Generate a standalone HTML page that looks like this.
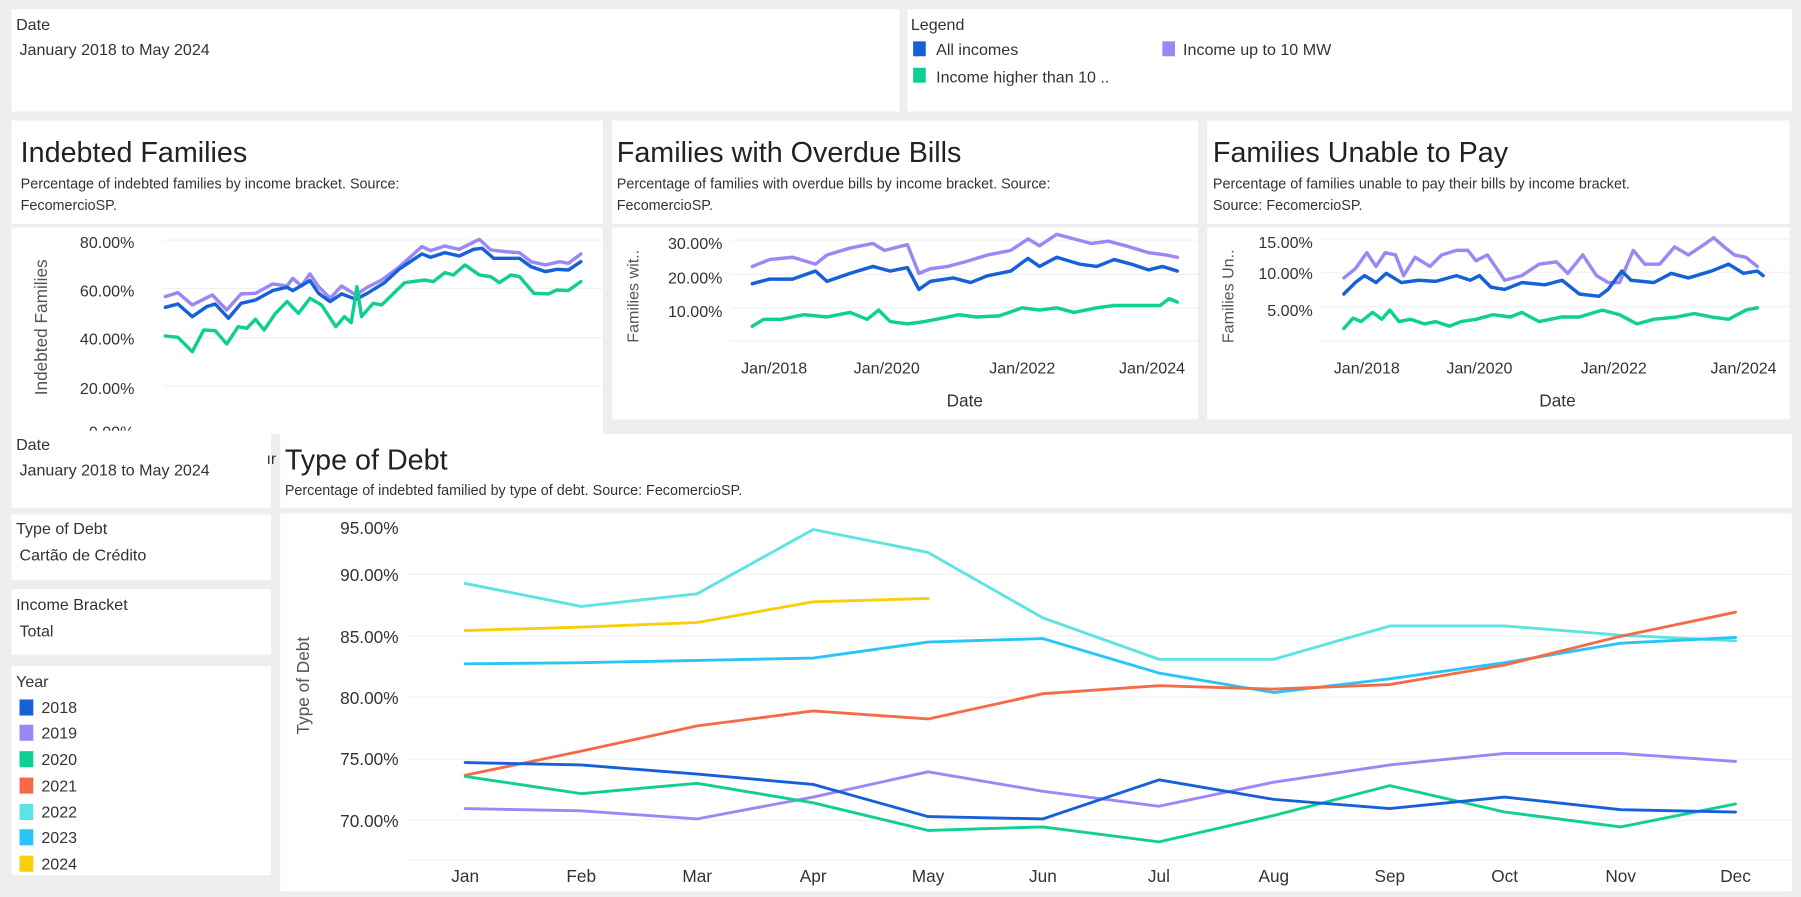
<!DOCTYPE html>
<html><head><meta charset="utf-8"><style>
html,body{margin:0;padding:0;background:#eeeeee;}
svg{display:block;}
text{font-family:"Liberation Sans",sans-serif;fill:#333;}
.t{font-size:14px;fill:#333;}
.h{font-size:25px;fill:#222;}
.s{font-size:12.5px;fill:#333;}
.ax{font-size:14px;fill:#555;}
.g{stroke:#f0f0f0;stroke-width:1;}
</style></head><body>
<svg id="sv" width="1801" height="897" viewBox="0 0 1568 781" preserveAspectRatio="none" xmlns="http://www.w3.org/2000/svg">
<rect x="0" y="0" width="1568" height="781" fill="#eeeeee"/>
<!-- top panels -->
<rect x="10" y="8" width="773" height="89" fill="#fff"/>
<text class="t" x="14" y="26">Date</text>
<text class="t" x="17" y="48">January 2018 to May 2024</text>
<rect x="790" y="8" width="770" height="89" fill="#fff"/>
<text class="t" x="793" y="26">Legend</text>
<rect x="795" y="36" width="11" height="13" fill="#1660d9"/><text class="t" x="815" y="48">All incomes</text>
<rect x="1012" y="36" width="11" height="13" fill="#9b87f5"/><text class="t" x="1030" y="48">Income up to 10 MW</text>
<rect x="795" y="59" width="11" height="13" fill="#0fcf92"/><text class="t" x="815" y="72">Income higher than 10 ..</text>

<!-- Indebted -->
<rect x="10" y="105" width="515" height="90" fill="#fff"/>
<text class="h" x="18" y="141">Indebted Families</text>
<text class="s" x="18" y="164">Percentage of indebted families by income bracket. Source:</text>
<text class="s" x="18" y="183">FecomercioSP.</text>
<rect x="10" y="198" width="515" height="180" fill="#fff"/>
<g class="g"><line x1="142" y1="209" x2="525" y2="209"/><line x1="142" y1="251" x2="525" y2="251"/><line x1="142" y1="294" x2="525" y2="294"/><line x1="142" y1="336" x2="525" y2="336"/></g>
<g class="ax" text-anchor="end"><text x="117" y="216">80.00%</text><text x="117" y="258">60.00%</text><text x="117" y="300">40.00%</text><text x="117" y="343">20.00%</text><text x="117" y="381">0.00%</text></g>
<text class="ax" transform="translate(41,285) rotate(-90)" text-anchor="middle" style="font-size:15px">Indebted Families</text>

<!-- Overdue -->
<rect x="533" y="105" width="510" height="90" fill="#fff"/>
<text class="h" x="537" y="141">Families with Overdue Bills</text>
<text class="s" x="537" y="164">Percentage of families with overdue bills by income bracket. Source:</text>
<text class="s" x="537" y="183">FecomercioSP.</text>
<rect x="533" y="198" width="510" height="167" fill="#fff"/>
<g class="g"><line x1="636" y1="209" x2="1043" y2="209"/><line x1="636" y1="239" x2="1043" y2="239"/><line x1="636" y1="268" x2="1043" y2="268"/><line x1="636" y1="297" x2="1043" y2="297"/></g>
<g class="ax" text-anchor="end"><text x="629" y="217">30.00%</text><text x="629" y="247">20.00%</text><text x="629" y="276">10.00%</text></g>
<g class="ax" text-anchor="middle"><text x="674" y="325">Jan/2018</text><text x="772" y="325">Jan/2020</text><text x="890" y="325">Jan/2022</text><text x="1003" y="325">Jan/2024</text><text x="840" y="354" style="font-size:15px">Date</text></g>
<text class="ax" transform="translate(556,258) rotate(-90)" text-anchor="middle">Families wit..</text>

<!-- Unable -->
<rect x="1051" y="105" width="507" height="90" fill="#fff"/>
<text class="h" x="1056" y="141">Families Unable to Pay</text>
<text class="s" x="1056" y="164">Percentage of families unable to pay their bills by income bracket.</text>
<text class="s" x="1056" y="183">Source: FecomercioSP.</text>
<rect x="1051" y="198" width="507" height="167" fill="#fff"/>
<g class="g"><line x1="1150" y1="208" x2="1558" y2="208"/><line x1="1150" y1="237" x2="1558" y2="237"/><line x1="1150" y1="267" x2="1558" y2="267"/><line x1="1150" y1="297" x2="1558" y2="297"/></g>
<g class="ax" text-anchor="end"><text x="1143" y="216">15.00%</text><text x="1143" y="243">10.00%</text><text x="1143" y="275">5.00%</text></g>
<g class="ax" text-anchor="middle"><text x="1190" y="325">Jan/2018</text><text x="1288" y="325">Jan/2020</text><text x="1405" y="325">Jan/2022</text><text x="1518" y="325">Jan/2024</text><text x="1356" y="354" style="font-size:15px">Date</text></g>
<text class="ax" transform="translate(1074,258) rotate(-90)" text-anchor="middle">Families Un..</text>

<!-- bottom left -->
<rect x="10" y="375" width="226" height="67" fill="#fff"/>
<text class="t" x="14" y="392">Date</text>
<text class="t" x="17" y="414">January 2018 to May 2024</text>
<text class="t" x="232" y="404">ır</text>
<rect x="10" y="448" width="226" height="57" fill="#fff"/>
<text class="t" x="14" y="465">Type of Debt</text>
<text class="t" x="17" y="488">Cartão de Crédito</text>
<rect x="10" y="513" width="226" height="57" fill="#fff"/>
<text class="t" x="14" y="531">Income Bracket</text>
<text class="t" x="17" y="554">Total</text>
<rect x="10" y="580" width="226" height="182" fill="#fff"/>
<text class="t" x="14" y="598">Year</text>
<g class="t">
<rect x="17" y="609" width="12" height="14" fill="#1660d9"/><text x="36" y="621">2018</text>
<rect x="17" y="631" width="12" height="14" fill="#9b87f5"/><text x="36" y="643">2019</text>
<rect x="17" y="654" width="12" height="14" fill="#0fcf92"/><text x="36" y="666">2020</text>
<rect x="17" y="677" width="12" height="14" fill="#f56b47"/><text x="36" y="689">2021</text>
<rect x="17" y="700" width="12" height="14" fill="#5ee3e3"/><text x="36" y="712">2022</text>
<rect x="17" y="722" width="12" height="14" fill="#29c5f6"/><text x="36" y="734">2023</text>
<rect x="17" y="745" width="12" height="14" fill="#f8cf0a"/><text x="36" y="757">2024</text>
</g>

<!-- Type of Debt -->
<rect x="244" y="378" width="1316" height="64" fill="#fff"/>
<text class="h" x="248" y="409">Type of Debt</text>
<text class="s" x="248" y="431">Percentage of indebted familied by type of debt. Source: FecomercioSP.</text>
<rect x="244" y="447" width="1316" height="329" fill="#fff"/>
<g class="g"><line x1="355" y1="500" x2="1560" y2="500"/><line x1="355" y1="554" x2="1560" y2="554"/><line x1="355" y1="607" x2="1560" y2="607"/><line x1="355" y1="661" x2="1560" y2="661"/><line x1="355" y1="714" x2="1560" y2="714"/><line x1="355" y1="749" x2="1560" y2="749"/></g>
<g class="ax" text-anchor="end" style="font-size:15px"><text x="347" y="465">95.00%</text><text x="347" y="506">90.00%</text><text x="347" y="560">85.00%</text><text x="347" y="613">80.00%</text><text x="347" y="666">75.00%</text><text x="347" y="720">70.00%</text></g>
<text class="ax" transform="translate(269,597) rotate(-90)" text-anchor="middle" style="font-size:15px">Type of Debt</text>
<g class="ax" text-anchor="middle" style="font-size:15px" id="months"></g>
<g id="lines" fill="none" stroke-linejoin="round" stroke-linecap="round"></g>
</svg>
<script>
var NS="http://www.w3.org/2000/svg",L=document.getElementById('lines');
function pl(pts,c,w){var p=document.createElementNS(NS,'polyline');p.setAttribute('points',pts.map(function(a){return a[0].toFixed(1)+','+a[1].toFixed(1)}).join(' '));p.setAttribute('stroke',c);p.setAttribute('stroke-width',w);L.appendChild(p);}
function z(a){var r=[];for(var i=0;i<a.length;i+=2)r.push([a[i]/2.001,a[i+1]/3.446]);return r;}
function t(a){var r=[];for(var i=0;i<a.length;i+=2)r.push([a[i],a[i+1]]);return r;}
var B="#1660d9",P="#9b87f5",G="#0fcf92";
pl(z([288,890,310,878,335,915,370,885,395,930,420,882,445,880,475,852,500,858,510,835,525,858,540,822,555,860,575,895,595,858,620,885,640,862,665,840,695,802,735,740,750,752,775,738,800,748,835,718,855,750,880,755,905,758,925,785,950,795,975,785,990,790,1012,762]),P,3);
pl(z([288,922,310,912,335,950,360,920,375,912,398,955,420,910,445,900,475,872,500,862,510,872,540,842,555,880,575,905,595,882,620,898,640,880,670,848,695,808,735,762,750,772,775,758,800,768,825,748,840,745,860,775,905,775,925,800,950,815,970,808,990,810,1012,785]),B,3);
pl(z([288,1008,310,1012,335,1055,355,990,375,992,395,1032,415,980,430,985,445,958,460,990,480,940,500,905,520,940,540,895,560,915,585,980,600,950,612,968,622,860,630,950,650,910,665,915,705,848,740,840,755,845,775,818,790,825,810,795,835,825,855,830,870,848,890,825,905,830,930,880,955,882,970,870,990,872,1012,845]),G,3);
pl(t([655,232,670,226,690,224,710,230,720,222,740,216,760,212,770,218,790,213,800,238,810,234,825,232,840,228,860,222,880,218,895,208,905,214,920,204,935,208,950,212,965,210,980,214,1000,220,1015,222,1025,224]),P,3);
pl(t([655,247,670,243,690,243,710,236,720,245,740,238,760,232,775,236,790,233,800,252,810,245,830,242,845,246,860,240,880,236,895,225,905,232,920,224,940,230,955,232,970,226,985,230,1000,235,1012,232,1025,236]),B,3);
pl(t([655,284,665,278,680,278,700,274,720,276,740,272,755,278,765,270,775,280,790,282,805,280,820,277,835,274,850,276,870,275,890,268,905,270,920,268,935,272,955,268,970,266,990,266,1010,266,1018,260,1025,263]),G,3);
pl(t([1170,242,1180,234,1190,220,1198,232,1206,220,1215,222,1222,240,1232,224,1245,232,1255,222,1268,218,1278,218,1285,227,1295,222,1310,244,1325,240,1340,230,1355,228,1365,238,1378,222,1390,240,1400,246,1410,246,1422,218,1432,230,1445,230,1458,215,1470,222,1482,214,1492,207,1500,214,1510,222,1520,224,1530,232]),P,3);
pl(t([1170,256,1180,246,1188,240,1198,246,1207,238,1220,246,1235,244,1250,245,1268,240,1280,244,1288,240,1298,250,1310,252,1325,246,1345,248,1360,244,1375,256,1392,258,1400,252,1412,236,1420,244,1440,246,1455,238,1470,242,1490,236,1505,230,1518,238,1530,236,1535,240]),B,3);
pl(t([1170,286,1178,277,1185,280,1195,272,1203,278,1210,270,1218,280,1228,278,1240,282,1250,280,1262,284,1272,280,1285,278,1300,274,1315,276,1325,272,1340,280,1360,276,1375,276,1395,270,1410,274,1425,282,1440,278,1460,276,1475,273,1490,276,1505,278,1520,270,1530,268]),G,3);
var mx=[405,506,607,708,808,908,1009,1109,1210,1310,1411,1511],mn=["Jan","Feb","Mar","Apr","May","Jun","Jul","Aug","Sep","Oct","Nov","Dec"],M=document.getElementById('months');
mn.forEach(function(m,i){var e=document.createElementNS(NS,'text');e.setAttribute('x',mx[i]);e.setAttribute('y',768);e.textContent=m;M.appendChild(e);});
function yr(v,c){pl(v.map(function(y,i){return [mx[i],y]}),c,2.5);}
yr([508,528,517,461,481,538,574,574,545,545,553,558],"#5ee3e3");
yr([578,577,575,573,559,556,586,603,591,577,560,555],"#29c5f6");
yr([675,654,632,619,626,604,597,600,596,579,554,533],"#f56b47");
yr([704,706,713,694,672,689,702,681,666,656,656,663],P);
yr([676,691,682,699,723,720,733,710,684,707,720,700],G);
yr([664,666,674,683,711,713,679,696,704,694,705,707],B);
yr([549,546,542,524,521],"#f8cf0a");
</script>
</body></html>
